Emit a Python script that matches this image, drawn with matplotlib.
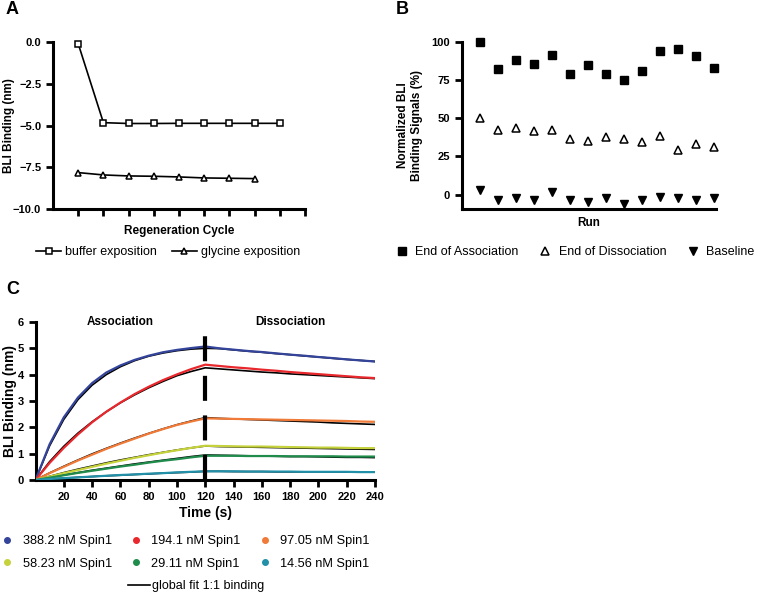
import numpy as np
import matplotlib
matplotlib.use("Agg")
from matplotlib import pyplot as plt
from matplotlib.lines import Line2D

plt.rcParams['font.family'] = ['Liberation Sans', 'DejaVu Sans']

# ---- panel A data ----
cycle_buf = [1, 2, 3, 4, 5, 6, 7, 8, 9]
buffer_vals = [-0.1, -4.83, -4.88, -4.88, -4.87, -4.87, -4.87, -4.87, -4.87]
cycle_gly = [1, 2, 3, 4, 5, 6, 7, 8]
glycine_vals = [-7.82, -7.96, -8.02, -8.04, -8.08, -8.14, -8.16, -8.18]

# ---- panel B data ----
runs = list(range(1, 15))
end_assoc = [100, 82.6, 88.3, 85.9, 91.5, 78.9, 85.0, 78.7, 75.4, 80.9, 93.9, 95.7, 90.9, 83.0]
end_dissoc = [50.0, 42.0, 43.9, 41.7, 42.4, 36.3, 35.4, 37.4, 36.1, 34.6, 38.5, 28.9, 33.0, 31.1]
baseline = [2.8, -3.3, -2.2, -3.7, 1.7, -3.9, -4.6, -2.6, -6.3, -3.9, -1.5, -2.2, -3.9, -2.0]

# ---- panel C data (read every 10 s) ----
time_s = list(range(0, 250, 10))
conc_labels = ["388.2 nM Spin1", "194.1 nM Spin1", "97.05 nM Spin1",
               "58.23 nM Spin1", "29.11 nM Spin1", "14.56 nM Spin1"]
conc_colors = ["#34449a", "#e8282c", "#f07a38", "#c5d23c", "#1f8c4c", "#2190a8"]
measured = [
    [0, 1.36, 2.38, 3.13, 3.68, 4.08, 4.35, 4.56, 4.72, 4.85, 4.94, 5.01, 5.07,
     5.00, 4.95, 4.90, 4.86, 4.81, 4.76, 4.72, 4.67, 4.63, 4.58, 4.54, 4.50],
    [0, 0.65, 1.22, 1.73, 2.19, 2.59, 2.94, 3.26, 3.54, 3.79, 4.01, 4.21, 4.38,
     4.33, 4.28, 4.24, 4.19, 4.15, 4.10, 4.06, 4.02, 3.98, 3.94, 3.90, 3.87],
    [0, 0.26, 0.50, 0.74, 0.96, 1.18, 1.38, 1.57, 1.76, 1.93, 2.09, 2.22, 2.34,
     2.33, 2.32, 2.31, 2.30, 2.29, 2.28, 2.27, 2.26, 2.25, 2.24, 2.22, 2.21],
    [0, 0.13, 0.26, 0.38, 0.50, 0.62, 0.73, 0.84, 0.94, 1.04, 1.13, 1.22, 1.30,
     1.29, 1.28, 1.27, 1.27, 1.26, 1.25, 1.24, 1.23, 1.23, 1.22, 1.21, 1.21],
    [0, 0.09, 0.18, 0.27, 0.35, 0.43, 0.51, 0.58, 0.66, 0.73, 0.79, 0.86, 0.92,
     0.92, 0.92, 0.91, 0.91, 0.91, 0.90, 0.90, 0.90, 0.90, 0.89, 0.89, 0.89],
    [0, 0.04, 0.07, 0.10, 0.13, 0.16, 0.19, 0.21, 0.24, 0.26, 0.29, 0.31, 0.33,
     0.33, 0.33, 0.32, 0.32, 0.32, 0.32, 0.31, 0.31, 0.31, 0.31, 0.30, 0.30],
]
fitted = [
    [0, 1.30, 2.30, 3.05, 3.60, 4.00, 4.30, 4.53, 4.70, 4.82, 4.91, 4.97, 5.00,
     4.99, 4.94, 4.89, 4.85, 4.80, 4.76, 4.71, 4.67, 4.62, 4.58, 4.54, 4.50],
    [0, 0.70, 1.28, 1.78, 2.21, 2.59, 2.93, 3.23, 3.50, 3.74, 3.96, 4.12, 4.26,
     4.22, 4.18, 4.14, 4.10, 4.07, 4.03, 4.00, 3.97, 3.94, 3.91, 3.88, 3.85],
    [0, 0.27, 0.52, 0.76, 0.99, 1.20, 1.40, 1.59, 1.77, 1.94, 2.10, 2.24, 2.37,
     2.34, 2.32, 2.30, 2.28, 2.26, 2.24, 2.22, 2.20, 2.17, 2.15, 2.13, 2.11],
    [0, 0.14, 0.28, 0.41, 0.53, 0.65, 0.76, 0.86, 0.96, 1.05, 1.14, 1.22, 1.29,
     1.27, 1.26, 1.25, 1.24, 1.23, 1.22, 1.21, 1.20, 1.19, 1.18, 1.17, 1.16],
    [0, 0.10, 0.19, 0.28, 0.37, 0.45, 0.53, 0.61, 0.68, 0.75, 0.82, 0.89, 0.95,
     0.94, 0.93, 0.92, 0.91, 0.90, 0.89, 0.89, 0.88, 0.87, 0.86, 0.86, 0.85],
    [0, 0.04, 0.07, 0.10, 0.13, 0.16, 0.18, 0.21, 0.23, 0.26, 0.28, 0.30, 0.33,
     0.33, 0.32, 0.32, 0.32, 0.31, 0.31, 0.31, 0.31, 0.30, 0.30, 0.30, 0.30],
]

W, H = 765, 593
fig = plt.figure(figsize=(W / 100, H / 100), dpi=100)


def px_axes(x0, y0, x1, y1):
    # axes from pixel box (top-left origin)
    return fig.add_axes([x0 / W, 1 - y1 / H, (x1 - x0) / W, (y1 - y0) / H])


def style(ax):
    for s in ["top", "right"]:
        ax.spines[s].set_visible(False)
    for s in ["left", "bottom"]:
        ax.spines[s].set_linewidth(2.2)
    ax.tick_params(width=2, length=5, direction="out", labelsize=8)
    for lab in ax.get_xticklabels() + ax.get_yticklabels():
        lab.set_fontweight("bold")


# ---------------- A ----------------
axA = px_axes(53, 42, 305, 209)
axA.plot(cycle_buf, buffer_vals, color="black", lw=1.2, marker="s", ms=4.5,
         mfc="white", mec="black", mew=1.1, label="buffer exposition", clip_on=False)
axA.plot(cycle_gly, glycine_vals, color="black", lw=1.2, marker="^", ms=5,
         mfc="white", mec="black", mew=1.1, label="glycine exposition", clip_on=False)
axA.set_xlim(0, 10)
axA.set_ylim(-10, 0)
axA.set_xticks(range(1, 11))
axA.set_xticklabels([])
axA.set_yticks([-10, -7.5, -5, -2.5, 0])
axA.set_yticklabels(["\u221210.0", "\u22127.5", "\u22125.0", "\u22122.5", "0.0"])
style(axA)
axA.set_xlabel("Regeneration Cycle", fontsize=8.5, fontweight="bold", labelpad=3)
axA.set_ylabel("BLI Binding (nm)", fontsize=8.5, fontweight="bold")
axA.yaxis.set_label_coords(15 / W, 1 - 125.5 / H, transform=fig.transFigure)
axA.legend(loc="center", bbox_to_anchor=(168 / W, 1 - 252 / H), bbox_transform=fig.transFigure,
           ncol=2, frameon=False, fontsize=9, handlelength=2, columnspacing=1.2,
           handletextpad=0.3)

# ---------------- B ----------------
axB = px_axes(462, 42, 716, 209)
axB.plot(runs, end_assoc, ls="none", marker="s", ms=5.5, color="black",
         label="End of Association", clip_on=False)
axB.plot(runs, end_dissoc, ls="none", marker="^", ms=5.5, mfc="white", mec="black", mew=1.1,
         label="End of Dissociation", clip_on=False)
axB.plot(runs, baseline, ls="none", marker="v", ms=5.5, color="black", label="Baseline",
         clip_on=False)
axB.set_xlim(0, 14.1)
axB.set_ylim(-9.5, 100)
axB.set_xticks([])
axB.set_yticks([0, 25, 50, 75, 100])
style(axB)
axB.set_xlabel("Run", fontsize=8.5, fontweight="bold", labelpad=6)
axB.set_ylabel("Normalized BLI\nBinding Signals (%)", fontsize=8.5, fontweight="bold")
axB.yaxis.set_label_coords(423 / W, 1 - 125.5 / H, transform=fig.transFigure)
axB.legend(loc="center", bbox_to_anchor=(575 / W, 1 - 252 / H), bbox_transform=fig.transFigure,
           ncol=3, frameon=False, fontsize=9, handlelength=1, columnspacing=1.6,
           handletextpad=0.6)

# ---------------- C ----------------
axC = px_axes(35.5, 322, 375, 480)
handles = []
for vals, fit, col, lab in zip(measured, fitted, conc_colors, conc_labels):
    axC.plot(time_s, vals, color=col, lw=1.6, zorder=3)
    axC.plot(time_s, fit, color="black", lw=1.2, zorder=2)
    handles.append(Line2D([], [], ls="none", marker="o", ms=4, color=col, label=lab))
axC.axvline(120, color="black", lw=3, ls=(0, (6, 3.5)), zorder=4)
axC.set_xlim(0, 240)
axC.set_ylim(0, 6)
axC.set_xticks(range(20, 250, 20))
axC.set_yticks(range(0, 7))
style(axC)
axC.text(60, 6, "Association", ha="center", va="center", fontsize=8.5, fontweight="bold")
axC.text(180, 6, "Dissociation", ha="center", va="center", fontsize=8.5, fontweight="bold")
axC.set_xlabel("Time (s)", fontsize=10, fontweight="bold", labelpad=3)
axC.set_ylabel("BLI Binding (nm)", fontsize=10, fontweight="bold")
axC.yaxis.set_label_coords(17 / W, 1 - 401 / H, transform=fig.transFigure)

# legend is filled column by column, so order the handles to read row-wise
leg_order = [0, 3, 1, 4, 2, 5]
axC.legend(handles=[handles[i] for i in leg_order], loc="upper left",
           bbox_to_anchor=(1 / W, 1 - 535 / H), bbox_transform=fig.transFigure,
           ncol=3, frameon=False, fontsize=9.2, borderpad=0, borderaxespad=0,
           handlelength=1, columnspacing=1.4, handletextpad=0.7, labelspacing=0.85)
fig.legend(handles=[Line2D([], [], color="black", lw=1.2, label="global fit 1:1 binding")],
           loc="center", bbox_to_anchor=(196 / W, 1 - 586 / H), frameon=False, fontsize=9,
           handlelength=1.8, handletextpad=0.15)

# panel letters
fig.text(6 / W, 1 - 10 / H, "A", fontsize=13, fontweight="bold", va="center")
fig.text(396 / W, 1 - 10 / H, "B", fontsize=13, fontweight="bold", va="center")
fig.text(6 / W, 1 - 289 / H, "C", fontsize=13, fontweight="bold", va="center")

fig.savefig("out.png", dpi=100)
